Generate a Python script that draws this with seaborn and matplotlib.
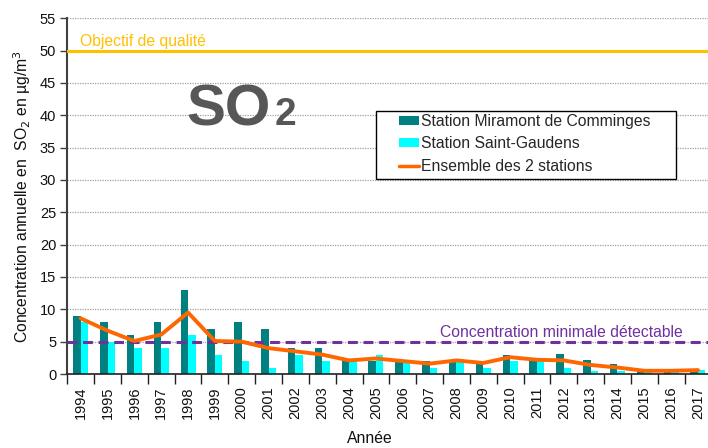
import numpy as np
import pandas as pd
import matplotlib
matplotlib.use("Agg")
import matplotlib.pyplot as plt
import seaborn as sns
from matplotlib.patches import Patch, Rectangle
from matplotlib.lines import Line2D

years = [str(y) for y in range(1994, 2018)]
miramont = [9, 8, 6, 8, 13, 7, 8, 7, 4, 4, 2, 2, 2, 2, 2, 2, 3, 2, 3.1, 2.2, 1.5, 0.3, 0.3, 0.3]
st_gaudens = [8, 5, 4, 4, 6, 3, 2, 1, 3, 2, 2, 3, 2, 1, 2, 1, 2, 2, 0.9, 0.4, 0.4, 0.3, 0.3, 0.6]
ensemble = [8.6, 6.7, 5.1, 6.1, 9.5, 5.1, 5.0, 4.0, 3.5, 3.0, 2.1, 2.4, 2.0, 1.6, 2.1, 1.7,
            2.6, 2.2, 2.1, 1.4, 1.0, 0.5, 0.5, 0.6]
series_names = ["Station Miramont de Comminges", "Station Saint-Gaudens"]
line_name = "Ensemble des 2 stations"
objectif = 50
seuil = 5

sns.set_theme(style="white")
plt.rcParams['font.family'] = ['Liberation Sans', 'DejaVu Sans']

df = pd.DataFrame({
    "Année": years * 2,
    "val": miramont + st_gaudens,
    "station": [series_names[0]] * len(years) + [series_names[1]] * len(years),
})

W, H = 708, 448
fig = plt.figure(figsize=(W / 100, H / 100), dpi=100)
left, right, top, bottom = 67.3, 711.4, 18.3, 374
ax = fig.add_axes([left / W, (H - bottom) / H, (right - left) / W, (bottom - top) / H])

FS = 11.3
TFS = 10.5

colors = ["#008080", "#00FFFF"]
sns.barplot(data=df, x="Année", y="val", hue="station", palette=colors,
            width=0.56, gap=0, ax=ax, legend=False, saturation=1, linewidth=0, zorder=2)
sns.lineplot(x=np.arange(len(years)), y=ensemble, color="#FF6600", linewidth=2.8, ax=ax, zorder=4)

ax.set_xlim(-0.5, len(years) - 0.5)
ax.set_ylim(0, 55)
ax.set_yticks(np.arange(0, 56, 5))
ax.yaxis.grid(True, linestyle=(0, (1, 1)), color="#a0a0a0", linewidth=0.9, zorder=0)
ax.set_axisbelow(True)

ax.axhline(objectif, color="#FFC000", linewidth=2.2, zorder=3)
ax.axhline(seuil, color="#7030A0", linewidth=2.2, linestyle=(0, (3.2, 1.9)), zorder=3)
fig.text(80 / W, (H - 46) / H, "Objectif de qualité", color="#FFC000",
         fontsize=FS, va="baseline", ha="left")
fig.text(440 / W, (H - 337) / H, "Concentration minimale détectable", color="#7030A0",
         fontsize=FS, va="baseline", ha="left")

# SO2 logo
fig.text(186 / W, (H - 125) / H, "SO", fontsize=42, fontweight="bold", color="#575757",
         va="baseline", ha="left")
fig.text(275 / W, (H - 125) / H, "2", fontsize=28, fontweight="bold", color="#575757",
         va="baseline", ha="left")

for s in ["top", "right"]:
    ax.spines[s].set_visible(False)
ax.spines["left"].set_color("#404040")
ax.spines["left"].set_linewidth(1.5)
ax.spines["bottom"].set_color("#202020")
ax.spines["bottom"].set_linewidth(1.2)

ax.tick_params(axis="y", left=True, length=5, width=1, color="#404040", labelsize=TFS,
               pad=3, labelcolor="#111111")
ax.set_xticks(np.arange(len(years)))
ax.set_xticklabels(years, rotation=90, fontsize=TFS)
ax.tick_params(axis="x", bottom=True, length=0, pad=9, labelcolor="#111111")
ax.set_xticks(np.arange(len(years) + 1) - 0.5, minor=True)
ax.tick_params(axis="x", which="minor", bottom=True, length=7, width=1, color="#202020")

ax.set_xlabel("Année", fontsize=FS, color="#111111")
ax.xaxis.set_label_coords((370 - left) / (right - left), -(438 - bottom) / (bottom - top) + 0.02)
ax.set_ylabel("Concentration annuelle en  SO$_2$ en µg/m$^3$", fontsize=FS, color="#111111",
              labelpad=5)

# legend box
box = Rectangle((375.7 / W, (H - 179.3) / H), (676 - 375.7) / W, (179.3 - 110.7) / H,
                transform=fig.transFigure, facecolor="white", edgecolor="black",
                linewidth=1, zorder=5, clip_on=False)
ax.add_artist(box)

handles = [Patch(facecolor=colors[0], edgecolor="none"),
           Patch(facecolor=colors[1], edgecolor="none"),
           Line2D([0], [0], color="#FF6600", linewidth=2.5)]
leg = ax.legend(handles, series_names + [line_name], loc="upper left",
                bbox_to_anchor=(399 / W, (H - 114) / H), bbox_transform=fig.transFigure,
                frameon=False, fontsize=FS, borderpad=0,
                handlelength=1.27, handleheight=0.5, handletextpad=0.13, labelspacing=0.47,
                borderaxespad=0)
leg.set_zorder(6)

fig.savefig("out.png", dpi=100)
